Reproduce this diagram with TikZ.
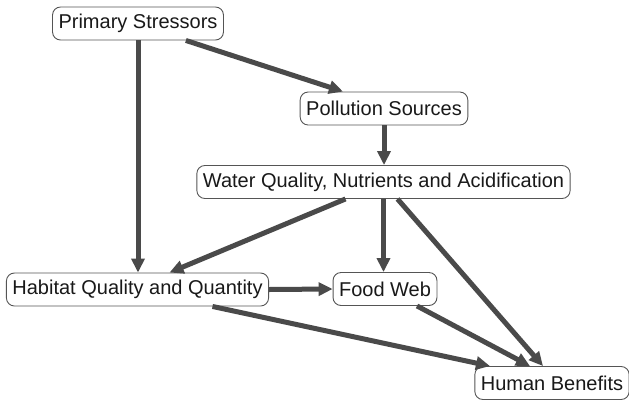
\documentclass[tikz,border=0pt]{standalone}
\usepackage{fontspec}
\setmainfont{Liberation Sans}
\usetikzlibrary{arrows.meta}
\definecolor{lnkgray}{HTML}{4A4A4A}
\definecolor{boxgray}{HTML}{555555}
\tikzstyle{box}=[draw=boxgray,line width=0.9pt,rounded corners=8pt,fill=white,
  minimum height=33pt,inner xsep=6pt,inner ysep=0pt,text=black!90,
  font=\fontsize{20}{24}\selectfont]
\tikzstyle{lnk}=[-{Triangle[length=14pt,width=13pt]},line width=5pt,lnkgray]
\tikzstyle{page}=[x=1pt,y=-1pt]

\begin{document}
\begin{tikzpicture}[page]
                    \useasboundingbox (0,0) rectangle (629,400);
                    \node[box] (ps)  at (138,23.5) {Primary Stressors};
                    \node[box] (pol) at (384,108.5) {Pollution Sources};
                    \node[box] (wq)  at (383.5,182) {Water Quality, Nutrients and Acidification};
                    \node[box] (hab) at (137.5,289.5) {Habitat Quality and Quantity};
                    \node[box] (fw)  at (385,289) {Food Web};
                    \node[box] (hb)  at (552,383) {Human Benefits};
                    \draw[lnk] (ps.south) to (ps.south |- hab.north);
                    \draw[lnk] ([xshift=-38pt]ps.south east) to ([xshift=-41pt]pol.north);
                    \draw[lnk] (pol.south) to (pol.south |- wq.north);
                    \draw[lnk] ([xshift=-38pt]wq.south) to ([xshift=32pt]hab.north);
                    \draw[lnk] (wq.south) to (wq.south |- fw.north);
                    \draw[lnk] ([xshift=14pt]wq.south) to ([xshift=-9pt]hb.north);
                    \draw[lnk] (hab.east) to (fw.west);
                    \draw[lnk] ([xshift=75pt]hab.south) to ([xshift=-62pt]hb.north);
                    \draw[lnk] ([xshift=32pt]fw.south) to ([xshift=-22pt]hb.north);
                \end{tikzpicture}
\end{document}
